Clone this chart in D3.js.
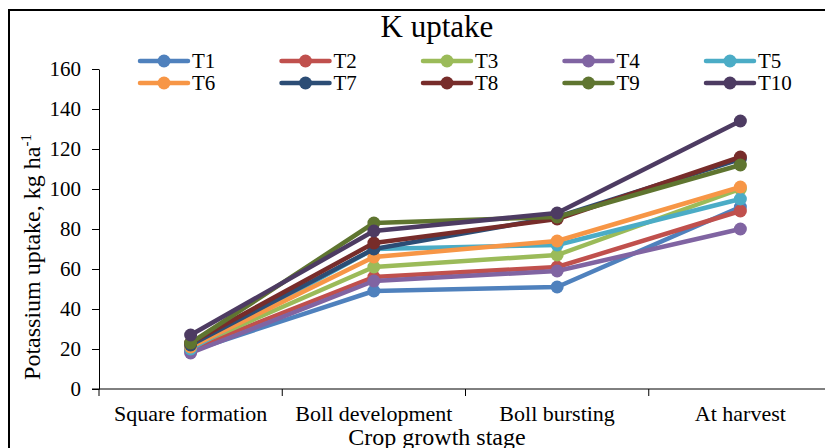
<!DOCTYPE html>
<html>
<head>
<meta charset="utf-8">
<script src="https://cdn.jsdelivr.net/npm/d3@7"></script>
<style>
  body { margin: 0; background: #fff; }
  svg { display: block; }
  svg text { font-family: "Liberation Serif", "Times New Roman", serif; fill: #000; }
</style>
</head>
<body>
<div id="chart"></div>
<script>
const stages = ["Square formation", "Boll development", "Boll bursting", "At harvest"];
const treatments = ["T1", "T2", "T3", "T4", "T5", "T6", "T7", "T8", "T9", "T10"];
const colors = ["#4F81BD", "#C0504D", "#9BBB59", "#8064A2", "#4BACC6",
                "#F79646", "#2C4D75", "#772C2A", "#5F7530", "#4D3B62"];
// K uptake (kg/ha) per treatment, one value per stage
const T1 = [19, 49, 51, 91];
const T2 = [20, 56, 61, 89];
const T3 = [21, 61, 67, 100];
const T4 = [18, 54, 59, 80];
const T5 = [20, 70, 72, 95];
const T6 = [21, 66, 74, 101];
const T7 = [22, 70, 86, 115];
const T8 = [23, 73, 85, 116];
const T9 = [23, 83, 86, 112];
const T10 = [27, 79, 88, 134];
const seriesValues = [T1, T2, T3, T4, T5, T6, T7, T8, T9, T10];
const yTicks = [0, 20, 40, 60, 80, 100, 120, 140, 160];

const width = 825, height = 448;
const svg = d3.select("#chart").append("svg")
  .attr("width", width).attr("height", height);

// outer frame (runs off the right and bottom edges)
svg.append("rect")
  .attr("x", 9).attr("y", 10)
  .attr("width", 900).attr("height", 500)
  .attr("fill", "none").attr("stroke", "#000").attr("stroke-width", 2);

const x = d3.scaleBand().domain(stages).range([99, 832]);
const y = d3.scaleLinear().domain([0, 160]).range([389, 69]);

// y axis
const yAxis = svg.append("g").attr("transform", "translate(99,0)")
  .call(d3.axisLeft(y).tickValues(yTicks).tickSize(7).tickSizeOuter(0));
yAxis.attr("font-family", null).attr("font-size", null);
yAxis.select(".domain").attr("stroke", "#000");
yAxis.selectAll(".tick line").attr("stroke", "#000");
yAxis.selectAll(".tick text")
  .attr("font-size", 21).attr("fill", "#000")
  .attr("x", -18);

// x axis
const xg = svg.append("g");
xg.append("line")
  .attr("x1", 92).attr("x2", 832)
  .attr("y1", y(0)).attr("y2", y(0))
  .attr("stroke", "#000");
const edges = stages.map(s => x(s)).concat([x.range()[1]]);
xg.selectAll("line.tk").data(edges).join("line")
  .attr("class", "tk")
  .attr("x1", d => d).attr("x2", d => d)
  .attr("y1", y(0)).attr("y2", y(0) + 7)
  .attr("stroke", "#000");
xg.selectAll("text").data(stages).join("text")
  .attr("x", d => x(d) + x.bandwidth() / 2)
  .attr("y", 421)
  .attr("text-anchor", "middle")
  .attr("font-size", 22)
  .text(d => d);

// axis titles
svg.append("text")
  .attr("x", 437).attr("y", 445)
  .attr("text-anchor", "middle").attr("font-size", 24)
  .text("Crop growth stage");

const yl = svg.append("text")
  .attr("transform", "translate(40,257) rotate(-90)")
  .attr("text-anchor", "middle").attr("font-size", 24);
yl.append("tspan").text("Potassium uptake, kg ha");
yl.append("tspan").attr("font-size", 15).attr("dy", -9).text("-1");

// title
svg.append("text")
  .attr("x", 437).attr("y", 37)
  .attr("text-anchor", "middle").attr("font-size", 31)
  .text("K uptake");

// series
const cx = s => x(s) + x.bandwidth() / 2;
const line = d3.line().x((d, i) => cx(stages[i])).y(d => y(d));
const series = svg.append("g").selectAll("g").data(seriesValues).join("g");
series.append("path")
  .attr("d", d => line(d))
  .attr("fill", "none")
  .attr("stroke", (d, i) => colors[i])
  .attr("stroke-width", 4.5)
  .attr("stroke-linejoin", "round");
series.each(function (vals, i) {
  d3.select(this).selectAll("circle").data(vals).join("circle")
    .attr("cx", (d, j) => cx(stages[j]))
    .attr("cy", d => y(d))
    .attr("r", 6.5)
    .attr("fill", colors[i]);
});

// legend: two rows of five
const legend = svg.append("g").selectAll("g").data(treatments).join("g")
  .attr("transform", (d, i) => `translate(${140 + (i % 5) * 141.5},${61 + Math.floor(i / 5) * 22})`);
legend.append("line")
  .attr("x1", 0).attr("x2", 48)
  .attr("stroke", (d, i) => colors[i]).attr("stroke-width", 4.5)
  .attr("stroke-linecap", "round");
legend.append("circle")
  .attr("cx", 24).attr("r", 6.5)
  .attr("fill", (d, i) => colors[i]);
legend.append("text")
  .attr("x", 52).attr("y", 7)
  .attr("font-size", 21)
  .text(d => d);
</script>
</body>
</html>
